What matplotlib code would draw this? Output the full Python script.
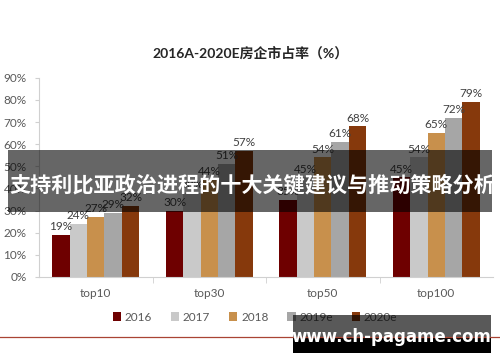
# -*- coding: utf-8 -*-

import matplotlib
matplotlib.use('Agg')
import matplotlib.pyplot as plt
from matplotlib.patches import Rectangle
from matplotlib.lines import Line2D
import numpy as np

# data
categories = ['top10', 'top30', 'top50', 'top100']
years = ['2016', '2017', '2018', '2019e', '2020e']
share_2016 = [19, 30, 35, 45]
share_2017 = [24, 38, 45, 54]
share_2018 = [27, 44, 54, 65]
share_2019 = [29, 51, 61, 72]
share_2020 = [32, 57, 68, 79]
yticks = [0, 10, 20, 30, 40, 50, 60, 70, 80, 90]

title = '2016A-2020E房企市占率（%）'
banner = '支持利比亚政治进程的十大关键建议与推动策略分析'
site = 'www.ch-pagame.com'


def main():
    plt.rcParams['font.family'] = ['Lato', 'Noto Sans CJK SC', 'DejaVu Sans']
    series = [share_2016, share_2017, share_2018, share_2019, share_2020]
    colors = ['#6e0000', '#c9c9c9', '#c8904c', '#a6a6a6', '#86390c']
    txt = '#595959'
    axcol = '#d0d0d0'

    fig = plt.figure(figsize=(5, 3.62), dpi=100, facecolor='w')
    ax = fig.add_axes([0.078, 0.235, 0.908, 0.55])

    xx = np.arange(len(categories))
    w = 0.153
    for i, (vals, col) in enumerate(zip(series, colors)):
        pos = xx + (i - 2) * w
        ax.bar(pos, vals, width=w, color=col, label=years[i], zorder=2)
        for p, v in zip(pos, vals):
            ax.annotate('%d%%' % v, (p, v), xytext=(0, 2), textcoords='offset points',
                        ha='center', va='bottom', fontsize=8.5, color='#404040')

    ax.set_xlim(-0.5, len(categories) - 0.5)
    ax.set_ylim(0, 90)
    ax.set_yticks(yticks)
    ax.set_yticklabels(['%d%%' % t for t in yticks], fontsize=8.5, color=txt)
    ax.set_xticks(xx)
    ax.set_xticklabels(categories, fontsize=8.5, color=txt)
    ax.set_xticks(xx[:-1] + 0.5, minor=True)
    ax.tick_params(axis='x', which='major', length=0, pad=8)
    ax.tick_params(axis='x', which='minor', length=4, color=axcol)
    ax.tick_params(axis='y', length=3, color=axcol, pad=6)
    for s in ['top', 'right']:
        ax.spines[s].set_visible(False)
    ax.spines['left'].set_color(axcol)
    ax.spines['bottom'].set_color(axcol)

    ax.legend(loc='center', bbox_to_anchor=(0.51, 0.124), bbox_transform=fig.transFigure,
              ncol=5, frameon=False, fontsize=8.5, handlelength=0.7, handleheight=0.7,
              handletextpad=0.3, columnspacing=1.6, labelcolor=txt)

    fig.text(0.502, 0.854, title, ha='center', va='center', fontsize=10,
             fontweight='bold', color='#262626')

    # red rule at the bottom
    fig.add_artist(Line2D([0, 1], [0.069, 0.069], color='#a94434', lw=0.9))

    # overlay banner
    fig.add_artist(Rectangle((0.016, 0.414), 0.968, 0.172, transform=fig.transFigure,
                             facecolor='black', alpha=0.6, edgecolor='none'))
    fig.text(0.018, 0.489, banner, ha='left', va='center', fontsize=15.2,
             fontweight='bold', color='white',
             family=['Noto Sans CJK SC', 'DejaVu Sans'])

    # watermark box
    fig.add_artist(Rectangle((0.586, 0.066), 0.396, 0.064, transform=fig.transFigure,
                             facecolor='black', alpha=0.65, edgecolor='none'))
    fig.add_artist(Rectangle((0.586, 0.025), 0.396, 0.041, transform=fig.transFigure,
                             facecolor='black', edgecolor='none'))
    fig.text(0.783, 0.069, site, ha='center', va='center', fontsize=12,
             fontweight='bold', color='white', family=['DejaVu Sans'])

    fig.savefig('out.png', dpi=100, facecolor='w')


if __name__ == '__main__':
    main()
